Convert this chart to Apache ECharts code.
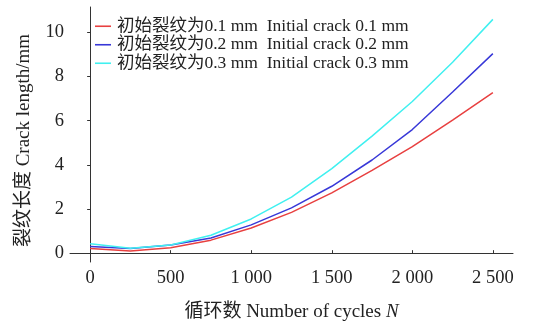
<!DOCTYPE html>
<html>
<head>
<meta charset="utf-8">
<script src="https://cdn.jsdelivr.net/npm/echarts@6/dist/echarts.min.js"></script>
<style>
    html, body {margin: 0; padding: 0; background: #fff;}
    #chart {width: 541px; height: 327px;}
</style>
</head>
<body>
<div id="chart"></div>
<script>
// 数据
const cycles = [0, 250, 500, 750, 1000, 1250, 1500, 1750, 2000, 2250, 2500];
const crack01 = [0.21, 0.10, 0.25, 0.59, 1.14, 1.85, 2.73, 3.75, 4.83, 6.03, 7.27];
const crack02 = [0.30, 0.21, 0.37, 0.69, 1.28, 2.05, 3.03, 4.22, 5.60, 7.30, 9.04];
const crack03 = [0.43, 0.22, 0.37, 0.81, 1.55, 2.54, 3.83, 5.30, 6.87, 8.65, 10.59];
const seriesNames = [
    '初始裂纹为0.1 mm  Initial crack 0.1 mm',
    '初始裂纹为0.2 mm  Initial crack 0.2 mm',
    '初始裂纹为0.3 mm  Initial crack 0.3 mm'
];
const xTicks = [0, 500, 1000, 1500, 2000, 2500];
const yTicks = [0, 2, 4, 6, 8, 10];

const font = '"Liberation Serif", "Noto Sans CJK SC", serif';

function pairs(ys) {
    return cycles.map((x, i) => [x, ys[i]]);
}

const myChart = echarts.init(document.getElementById('chart'));
myChart.setOption({
    animation: false,
    color: ['#e84040', '#3838d8', '#40f0f0'],
    textStyle: {fontFamily: font},
    grid: {left: 70, right: 28, top: 7, bottom: 59},
    legend: {
        data: seriesNames,
        orient: 'vertical',
        left: 90,
        top: 12,
        icon: 'rect',
        itemWidth: 16,
        itemHeight: 1.6,
        itemGap: 0,
        textStyle: {fontFamily: font, fontSize: 17.5, lineHeight: 18.5, color: '#222', padding: [0, 0, 0, 1]}
    },
    xAxis: {
        type: 'value',
        min: -125,
        max: 2625,
        name: '{a|循环数 Number of cycles }{b|N}',
        nameLocation: 'middle',
        nameGap: 41,
        nameTextStyle: {
            rich: {
                a: {fontFamily: font, fontSize: 19, color: '#222'},
                b: {fontFamily: font, fontSize: 19, fontStyle: 'italic', color: '#222'}
            }
        },
        splitLine: {show: false},
        axisLine: {lineStyle: {color: '#333', width: 1}},
        axisTick: {inside: true, length: 3, customValues: xTicks, lineStyle: {color: '#333'}},
        axisLabel: {
            customValues: xTicks,
            margin: 7,
            fontSize: 18.5,
            color: '#222',
            formatter: v => v >= 1000 ? Math.floor(v / 1000) + ' ' + String(v % 1000).padStart(3, '0') : String(v)
        }
    },
    yAxis: {
        type: 'value',
        min: -0.4,
        max: 11.15,
        name: '裂纹长度 Crack length/mm',
        nameLocation: 'middle',
        nameGap: 36,
        nameTextStyle: {fontFamily: font, fontSize: 19, color: '#222', padding: [0, 12, 0, 0]},
        splitLine: {show: false},
        axisLine: {show: true, lineStyle: {color: '#333', width: 1}},
        axisTick: {show: true, length: 3, customValues: yTicks, lineStyle: {color: '#333'}},
        axisLabel: {customValues: yTicks, margin: 6, fontSize: 18.5, color: '#222'}
    },
    series: [
        {name: seriesNames[0], type: 'line', symbol: 'none', lineStyle: {width: 1.5}, data: pairs(crack01)},
        {name: seriesNames[1], type: 'line', symbol: 'none', lineStyle: {width: 1.5}, data: pairs(crack02)},
        {name: seriesNames[2], type: 'line', symbol: 'none', lineStyle: {width: 1.5}, data: pairs(crack03)}
    ]
});
</script>
</body>
</html>
